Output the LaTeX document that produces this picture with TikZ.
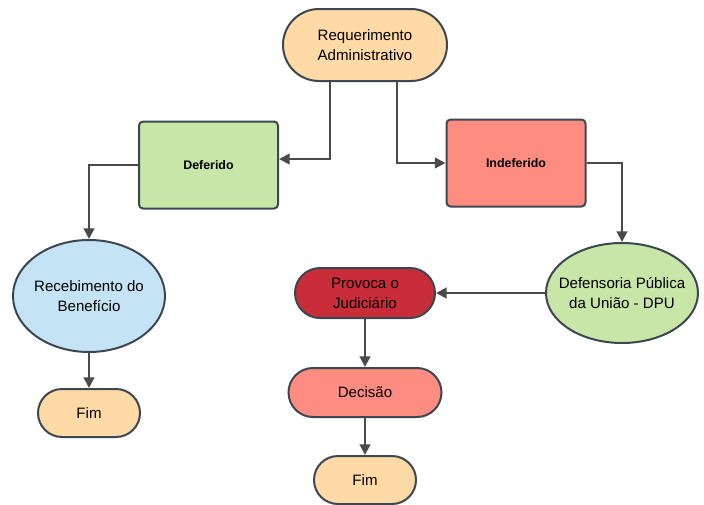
\documentclass[tikz,border=0pt]{standalone}
\usepackage{fontspec}
\setmainfont{Liberation Sans}
\usetikzlibrary{shapes.misc,shapes.geometric,arrows.meta}
\definecolor{bord}{HTML}{3D4752}
\definecolor{lin}{HTML}{4A4A4A}
\definecolor{orng}{HTML}{FFD9A6}
\definecolor{grn}{HTML}{C7E6A8}
\definecolor{salm}{HTML}{FF8C80}
\definecolor{dred}{HTML}{C92D39}
\definecolor{blu}{HTML}{C4E4F5}
\tikzset{
  txt/.style={align=center, font=\fontsize{11.3}{15}\selectfont},
  base/.style={draw=bord, line width=1.5pt, align=center, inner sep=0pt, font=\fontsize{11.3}{15}\selectfont},
  pill/.style={base, rounded rectangle, minimum width=#1},
  box/.style={base, rounded corners=3pt, minimum width=104.25pt, minimum height=65.25pt, font=\bfseries\fontsize{9.3}{11}\selectfont},
  oval/.style={draw=bord, line width=1.5pt, ellipse, inner sep=0pt},
  conn/.style={draw=lin, line width=1.6pt, -{Triangle[length=8pt,width=8pt]}},
}
\begin{document}
\begin{tikzpicture}[x=0.75pt,y=-0.75pt]
\useasboundingbox (0,0) rectangle (704,504);
\node[pill=123pt, minimum height=54pt, fill=orng] (req) at (365,45) {Requerimento\\Administrativo};
\node[box, fill=grn] (def) at (208.5,165) {Deferido};
\node[box, fill=salm] (ind) at (516,163) {Indeferido};
\node[oval, minimum width=114pt, minimum height=84pt, fill=blu,
  label={[txt]center:Recebimento do\\Benefício}] (rec) at (89,296) {};
\node[oval, minimum width=114pt, minimum height=75pt, fill=grn,
  label={[txt]center:Defensoria Pública\\da União - DPU}] (dpu) at (622,293) {};
\node[pill=105pt, minimum height=37.5pt, fill=dred] (prov) at (365,293) {Provoca o\\Judiciário};
\node[pill=114.75pt, minimum height=36.75pt, fill=salm] (dec) at (365,392.5) {Decisão};
\node[pill=76.5pt, minimum height=36pt, fill=orng] (fim1) at (89,413) {Fim};
\node[pill=76.5pt, minimum height=36pt, fill=orng] (fim2) at (365,480) {Fim};
\draw[conn] (req.south -| 330,0) |- (def.east |- 0,159);
\draw[conn] (req.south -| 397,0) |- (ind.west |- 0,163);
\draw[conn] (def.west) -| (rec.north);
\draw[conn] (ind.east) -| (dpu.north);
\draw[conn] (dpu.west) -- (prov.east);
\draw[conn] (rec.south) -- (fim1.north);
\draw[conn] (prov.south) -- (dec.north);
\draw[conn] (dec.south) -- (fim2.north);
\end{tikzpicture}
\end{document}
